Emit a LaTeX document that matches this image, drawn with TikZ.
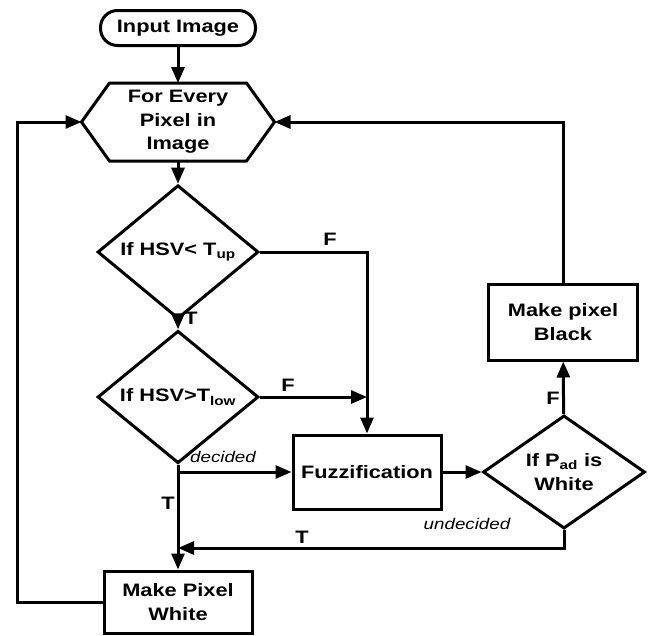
\documentclass[tikz,border=0pt]{standalone}
\usepackage{fontspec}
\setmainfont{Liberation Sans}[FakeStretch=1.21]
\usetikzlibrary{arrows.meta, positioning, shapes.geometric}

\begin{document}
\begin{tikzpicture}[x=1pt, y=-1pt, line width=3pt,
    font=\fontsize{18}{23.5}\selectfont\bfseries,
    arr/.style={-{Triangle[length=16pt, width=13pt]}},
    box/.style={draw, rectangle, align=center, inner sep=0pt},
    test/.style={draw, diamond, align=center, inner sep=0pt, minimum width=161pt, minimum height=107pt},
    note/.style={font=\fontsize{15.5}{18}\selectfont\itshape}]
    \useasboundingbox (0,0) rectangle (650,635);
    % nodes
    \node[box, rounded corners=17pt, minimum width=155pt, minimum height=35pt] (input) at (178,28) {Input Image};
    \node[rectangle, minimum width=190pt, minimum height=75pt, inner sep=0pt, align=center] (every) at (178,122) {For Every\\Pixel in\\Image};
    \draw[line join=miter] (every.west) -- ([xshift=28pt]every.north west) -- ([xshift=-28pt]every.north east)
        -- (every.east) -- ([xshift=-28pt]every.south east) -- ([xshift=28pt]every.south west) -- cycle;
    \node[test] (up) at (178,252) {If HSV< T\textsubscript{up}};
    \node[test, minimum height=105pt] (low) at (178,397) {If HSV>T\textsubscript{low}};
    \node[box, minimum width=148pt, minimum height=74pt] (fuzz) at (367,472) {Fuzzification};
    \node[test, minimum width=162pt, minimum height=109pt] (pad) at (564,472) {If P\textsubscript{ad} is\\White};
    \node[box, minimum width=149pt, minimum height=76pt] (black) at (563,322) {Make pixel\\Black};
    \node[box, minimum width=148pt, minimum height=62pt] (white) at (178,602) {Make Pixel\\White};
    \coordinate (ret) at (178,548);
    \coordinate (lft) at (17,602);
    % connectors
    \draw[arr] (input) -- (every);
    \draw[arr] (every) -- (up);
    \draw[arr] (up) -- (low);
    \draw[arr] (up.east) -| (fuzz.north);
    \draw[arr] (low.east) -- (low.east -| fuzz.north);
    \draw[arr] (low) -- (white);
    \draw[arr] (low.south |- fuzz.west) -- (fuzz.west);
    \draw[arr] (fuzz) -- (pad);
    \draw[arr] (pad) -- (black);
    \draw[arr] (pad.south) |- (ret);
    \draw[arr] (black.north) |- (every.east);
    \draw[arr] (white.west) -- (lft) |- (every.west);
    % labels
    \node at (330,239) {F};
    \node at (191,318) {T};
    \node at (288,385) {F};
    \node at (168,503) {T};
    \node at (302,537) {T};
    \node at (553,398) {F};
    \node[note] at (223,457) {decided};
    \node[note] at (467,524) {undecided};
\end{tikzpicture}
\end{document}
